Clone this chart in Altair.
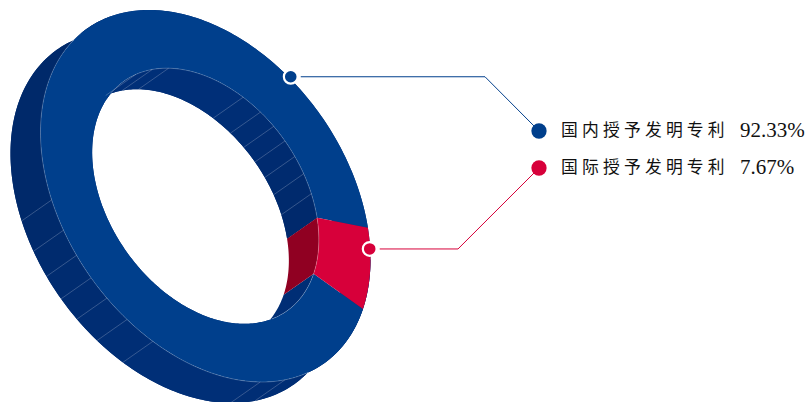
import math
import altair as alt

# Patent shares
categories = ["国内授予发明专利", "国际授予发明专利"]
shares = [92.33, 7.67]
share_labels = ["92.33%", "7.67%"]
face_colors = ["#003f8c", "#d7003a"]
wall_colors = ["#002e75", "#900022"]
leader_colors = ["#003f8c", "#d7003a"]

# Where the wall panels meet, in degrees around the ring
inner_seams = [-21, -30, -38, -45.5, -53, -61, -70.6, -109, -118, -128]
outer_seams = [158.8, 149.4, 141.4, 133.9, 126.7, 118.4, 108.6, 70.6, 61.2]

# Panel shades, each running from one seam to the next
inner_shades = ["#00296c", "#002a6d", "#002b6f", "#002b70", "#002c72", "#002d73",
                "#002e75", "#002f78", "#002f78", "#002f78", "#002f78"]
outer_shades = ["#00296a", "#002a6c", "#002b6e", "#002c70", "#002c71", "#002d73",
                "#002e75", "#002f77", "#002e75", "#002e75"]

# Oblique view of the ring: linear map from the unit circle to the page
CENTER = (205.5, 196.0)
AXIS_U = (165.0, 63.6)
AXIS_V = (0.0, 174.8)
HOLE = 0.687
DEPTH = (-30.0, 21.0)
RED_START = -10.2


def project(angle, radius=1.0, back=False):
    t = math.radians(angle)
    x = CENTER[0] + radius * (math.cos(t) * AXIS_U[0] + math.sin(t) * AXIS_V[0])
    y = CENTER[1] + radius * (math.cos(t) * AXIS_U[1] + math.sin(t) * AXIS_V[1])
    if back:
        x += DEPTH[0]
        y += DEPTH[1]
    return [x, y]


def arc(a0, a1, radius=1.0, back=False, step=1.0):
    n = max(2, int(abs(a1 - a0) / step) + 1)
    return [project(a0 + (a1 - a0) * i / (n - 1), radius, back) for i in range(n)]


def polygon(points, color):
    ring = points + [points[0]]
    return {
        "type": "Feature",
        "geometry": {"type": "Polygon", "coordinates": [ring]},
        "properties": {"color": color},
    }


def polyline(points):
    return {
        "type": "Feature",
        "geometry": {"type": "LineString", "coordinates": points},
        "properties": {},
    }


def band(a0, a1, radius, color):
    return polygon(arc(a0, a1, radius) + arc(a1, a0, radius, True), color)


red_sweep = shares[1] / 100 * 360
red_end = RED_START + red_sweep
blue_start, blue_end = red_end, RED_START + 360

# Painted back to front: the full walls first, then the shaded panels over them
walls = [
    polygon(arc(0, 360) + arc(360, 0, back=True), wall_colors[0]),
    band(blue_start, blue_end, HOLE, wall_colors[0]),
]
outer_edges = [235] + outer_seams + [0]
inner_edges = [RED_START] + inner_seams + [-150]
walls += [band(outer_edges[i], outer_edges[i + 1], 1.0, c) for i, c in enumerate(outer_shades)]
walls += [band(inner_edges[i], inner_edges[i + 1], HOLE, c) for i, c in enumerate(inner_shades)]
walls.append(band(RED_START, red_end, HOLE, wall_colors[1]))

faces = [
    polygon(arc(blue_start, blue_end) + arc(blue_end, blue_start, HOLE), face_colors[0]),
    polygon(arc(RED_START, red_end) + arc(red_end, RED_START, HOLE), face_colors[1]),
]
edges = [polyline(arc(52, 221)), polyline(arc(-147, 54, HOLE))]
edges += [polyline([project(a, HOLE), project(a, HOLE, True)]) for a in inner_seams]
edges += [polyline([project(a), project(a, 1.0, True)]) for a in outer_seams]

page = dict(type="identity", scale=1, translate=[0, 0])
pixel_x = alt.Scale(domain=[0, 807], range=[0, 807])
pixel_y = alt.Scale(domain=[0, 402], range=[0, 402])


def shapes(features):
    return (
        alt.Chart(alt.Data(values=features))
        .mark_geoshape(strokeWidth=0)
        .encode(fill=alt.Fill("properties.color:N", scale=None))
        .project(**page)
    )


wall_layer = shapes(walls)
face_layer = shapes(faces)
edge_layer = (
    alt.Chart(alt.Data(values=edges))
    .mark_geoshape(filled=False, stroke="#ffffff", strokeOpacity=0.36, strokeWidth=0.6)
    .project(**page)
)

# Callouts: start just clear of the ring anchor, elbow, then the legend dot
anchors = [project(-59.3, 1.012), project(-3.4, 0.997)]
row_y = [131, 168]
elbow_x = [485, 458]
rows = []
for i, name in enumerate(categories):
    ax, ay = anchors[i]
    for order, (x, y) in enumerate([(ax + 10, ay), (elbow_x[i], ay), (539, row_y[i])]):
        rows.append({"series": name, "order": order, "x": x, "y": y, "color": leader_colors[i]})

leaders = (
    alt.Chart(alt.Data(values=rows))
    .mark_line(strokeWidth=1)
    .encode(
        x=alt.X("x:Q", scale=pixel_x, axis=None),
        y=alt.Y("y:Q", scale=pixel_y, axis=None),
        detail="series:N",
        order="order:Q",
        color=alt.Color("color:N", scale=None),
    )
)

anchor_rows = [
    {"x": anchors[i][0], "y": anchors[i][1], "color": leader_colors[i]} for i in range(2)
]
anchor_dots = (
    alt.Chart(alt.Data(values=anchor_rows))
    .mark_point(filled=True, opacity=1, size=190, stroke="#ffffff", strokeWidth=2.2)
    .encode(
        x=alt.X("x:Q", scale=pixel_x, axis=None),
        y=alt.Y("y:Q", scale=pixel_y, axis=None),
        fill=alt.Fill("color:N", scale=None),
    )
)

legend_rows = [
    {
        "name": " ".join(categories[i]),
        "value": share_labels[i],
        "y": row_y[i],
        "color": leader_colors[i],
    }
    for i in range(2)
]
legend_base = alt.Chart(alt.Data(values=legend_rows))
legend_dots = legend_base.mark_point(filled=True, opacity=1, size=234).encode(
    x=alt.value(539),
    y=alt.Y("y:Q", scale=pixel_y, axis=None),
    fill=alt.Fill("color:N", scale=None),
)
legend_names = legend_base.mark_text(
    align="left", baseline="middle", font="Liberation Serif, Noto Sans CJK SC", fontSize=16.8, color="#111111"
).encode(x=alt.value(561), y=alt.Y("y:Q", scale=pixel_y, axis=None), text="name:N")
legend_values = legend_base.mark_text(
    align="left", baseline="middle", font="Liberation Serif", fontSize=21, color="#111111"
).encode(x=alt.value(740), y=alt.Y("y:Q", scale=pixel_y, axis=None), text="value:N")

chart = (
    alt.layer(
        wall_layer, face_layer, edge_layer, leaders, anchor_dots,
        legend_dots, legend_names, legend_values,
    )
    .resolve_scale(x="shared", y="shared")
    .properties(width=807, height=402, padding=0, autosize=alt.AutoSizeParams(type="none"))
    .configure_view(stroke=None)
)

chart.save("out.html", embed_options={"renderer": "svg", "actions": False})
